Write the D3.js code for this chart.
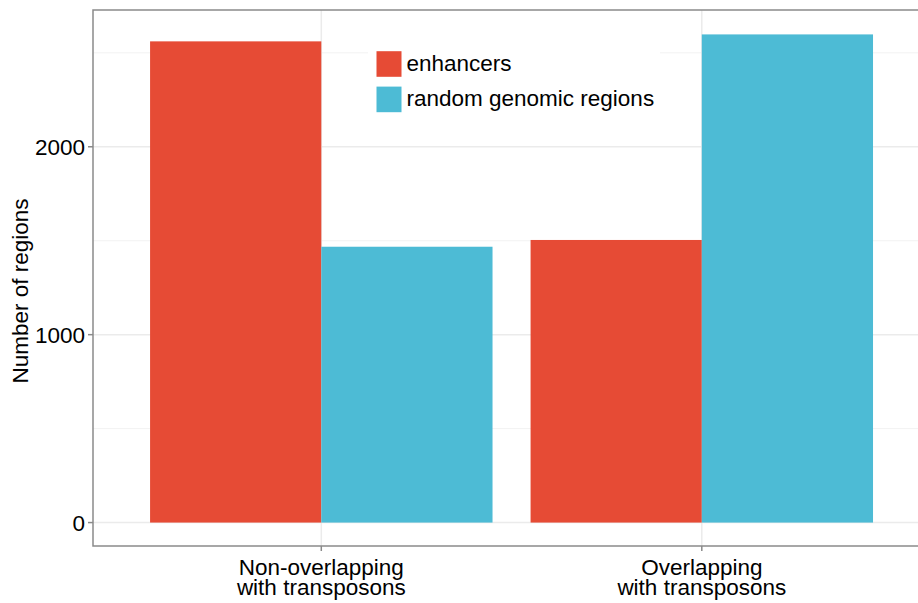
<!DOCTYPE html>
<html>
<head>
<meta charset="utf-8">
<script src="https://cdn.jsdelivr.net/npm/d3@7"></script>
<style>
  body { margin: 0; background: #fff; }
  svg { display: block; }
  text { font-family: "Liberation Sans", Arial, Helvetica, sans-serif; fill: #000; }
</style>
</head>
<body>
<svg id="chart" width="918" height="603"></svg>
<script>
const categories = ["Non-overlapping\nwith transposons", "Overlapping\nwith transposons"];
const seriesNames = ["enhancers", "random genomic regions"];
const enhancers = [2561, 1504];
const randomRegions = [1468, 2598];
const yTicks = [0, 1000, 2000];
const colors = ["#E64B35", "#4DBBD5"];

const W = 918, H = 603;
const FS = 22.5;
const panel = { left: 93, top: 10, bottom: 546 };
const unit = 380.5;
panel.right = panel.left + 2.2 * unit;

const svg = d3.select("#chart");
const series = [enhancers, randomRegions];
const maxV = d3.max(series.flat());

const x = d3.scaleLinear().domain([0.4, categories.length + 0.6]).range([panel.left, panel.right]);
const y = d3.scaleLinear().domain([-0.048 * maxV, maxV * 1.05]).range([panel.bottom, panel.top]);

// grid
const g = svg.append("g");
const minor = [500, 1500, 2500];
g.selectAll(".minor").data(minor).enter().append("line")
  .attr("x1", panel.left).attr("x2", panel.right)
  .attr("y1", d => y(d)).attr("y2", d => y(d))
  .attr("stroke", "#F2F2F2").attr("stroke-width", 1);
g.selectAll(".major").data(yTicks).enter().append("line")
  .attr("x1", panel.left).attr("x2", panel.right)
  .attr("y1", d => y(d)).attr("y2", d => y(d))
  .attr("stroke", "#EBEBEB").attr("stroke-width", 1.5);
g.selectAll(".vgrid").data(categories).enter().append("line")
  .attr("x1", (d, i) => x(i + 1)).attr("x2", (d, i) => x(i + 1))
  .attr("y1", panel.top).attr("y2", panel.bottom)
  .attr("stroke", "#EBEBEB").attr("stroke-width", 1.5);

// bars
const barW = 0.45;
series.forEach((vals, s) => {
  svg.append("g").selectAll("rect").data(vals).enter().append("rect")
    .attr("x", (d, i) => x(i + 1 - 0.45 + s * barW))
    .attr("width", x(1 + barW) - x(1))
    .attr("y", d => y(d))
    .attr("height", d => y(0) - y(d))
    .attr("fill", colors[s]);
});

// panel border
svg.append("rect")
  .attr("x", panel.left).attr("y", panel.top)
  .attr("width", panel.right - panel.left).attr("height", panel.bottom - panel.top)
  .attr("fill", "none").attr("stroke", "#8A8A8A").attr("stroke-width", 1.5);

// y axis ticks & labels
const yAx = svg.append("g");
yAx.selectAll("line").data(yTicks).enter().append("line")
  .attr("x1", panel.left - 5).attr("x2", panel.left)
  .attr("y1", d => y(d)).attr("y2", d => y(d))
  .attr("stroke", "#8A8A8A").attr("stroke-width", 1.5);
yAx.selectAll("text").data(yTicks).enter().append("text")
  .attr("x", panel.left - 8).attr("y", d => y(d)).attr("dy", "0.36em")
  .attr("text-anchor", "end").attr("font-size", FS).text(d => d);

// x axis
const xAx = svg.append("g");
xAx.selectAll("line").data(categories).enter().append("line")
  .attr("x1", (d, i) => x(i + 1)).attr("x2", (d, i) => x(i + 1))
  .attr("y1", panel.bottom).attr("y2", panel.bottom + 5)
  .attr("stroke", "#8A8A8A").attr("stroke-width", 1.5);
categories.forEach((c, i) => {
  const t = xAx.append("text").attr("text-anchor", "middle").attr("font-size", FS);
  c.split("\n").forEach((line, k) => {
    t.append("tspan").attr("x", x(i + 1)).attr("y", 575 + k * 19.5).text(line);
  });
});

// y title
svg.append("text")
  .attr("transform", "translate(27.5,291) rotate(-90)")
  .attr("text-anchor", "middle").attr("font-size", FS).text("Number of regions");

// legend
const leg = svg.append("g");
leg.append("rect").attr("x", 368).attr("y", 42).attr("width", 292).attr("height", 80).attr("fill", "#fff");
seriesNames.forEach((n, i) => {
  const cy = 64 + i * 35.4;
  leg.append("rect").attr("x", 376.5).attr("y", cy - 12.8).attr("width", 25).attr("height", 25.6)
    .attr("fill", colors[i]);
  leg.append("text").attr("x", 406.5).attr("y", cy + 6.5).attr("font-size", FS).text(n);
});
</script>
</body>
</html>
